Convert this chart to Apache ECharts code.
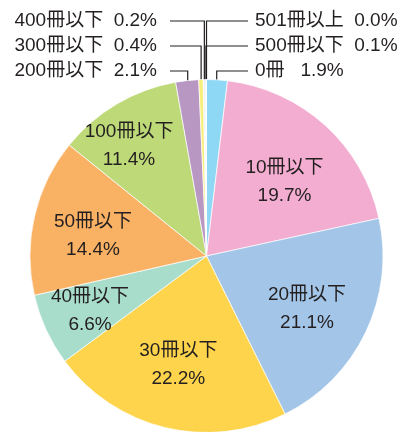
<!DOCTYPE html>
<html>
<head>
<meta charset="utf-8">
<style>
  html, body { margin: 0; padding: 0; background: #fff; }
  #chart { width: 408px; height: 432px; }
</style>
<script src="https://cdn.jsdelivr.net/npm/echarts@6/dist/echarts.min.js"></script>
</head>
<body>
<div id="chart"></div>
<script>
// Books read — share by count band, pie clockwise from 12 o'clock.
var categories = ["0冊", "10冊以下", "20冊以下", "30冊以下", "40冊以下", "50冊以下",
                  "100冊以下", "200冊以下", "300冊以下", "400冊以下", "500冊以下", "501冊以上"];
var shares = [1.9, 19.7, 21.1, 22.2, 6.6, 14.4, 11.4, 2.1, 0.4, 0.2, 0.1, 0.0];

// styling
var colors = ["#8fd8f5", "#f3add0", "#a3c5e7", "#fdd44c", "#a8dccb", "#f9b164",
              "#bdd978", "#b897c3", "#f7ee7c", "#eef2ef", "#d2dde6", "#ffffff"];
var outerLeft = ["200冊以下", "300冊以下", "400冊以下"];   // bottom row first
var outerRight = ["0冊", "500冊以下", "501冊以上"];
// inside label placement: [fraction of radius, degrees off the slice middle]
var innerPlace = {
  "10冊以下": [0.61, 4.2], "20冊以下": [0.643, 2.0], "30冊以下": [0.638, 1.0],
  "40冊以下": [0.73, -0.6], "50冊以下": [0.653, -3.0], "100冊以下": [0.762, -4.6]
};

var CX = 206.5, CY = 256, R = 176.5;
var INK = "#231f20";
var FONT = "'Liberation Sans', 'Noto Sans CJK JP', sans-serif";

var total = shares.reduce(function (s, v) { return s + v; }, 0);
var mids = [];
(function () {
  var cum = 0;
  shares.forEach(function (v) {
    mids.push((cum + v / 2) / total * Math.PI * 2);
    cum += v;
  });
})();

function pct(v) { return v.toFixed(1) + "%"; }
function polar(a, r) { return [CX + r * Math.sin(a), CY - r * Math.cos(a)]; }

var chart = echarts.init(document.getElementById("chart"), null, { renderer: "canvas" });

chart.setOption({
  animation: false,
  backgroundColor: "#fff",
  series: [{
    type: "pie",
    center: [CX, CY],
    radius: [0, R],
    startAngle: 90,
    clockwise: true,
    avoidLabelOverlap: false,
    minShowLabelAngle: 0,
    itemStyle: { borderColor: "#ffffff", borderWidth: 0.7 },
    labelLine: { show: true, length: 10, length2: 10, lineStyle: { color: INK, width: 1.2 } },
    data: categories.map(function (name, i) {
      var outer = outerLeft.indexOf(name) >= 0 || outerRight.indexOf(name) >= 0;
      return {
        name: name,
        value: shares[i],
        itemStyle: { color: colors[i] },
        label: {
          show: true,
          position: outer ? "outside" : "inside",
          alignTo: "none",
          overflow: "none",
          formatter: outer
            ? name + (name === "0冊" ? "   " : "  ") + pct(shares[i])
            : name + "\n" + pct(shares[i]),
          fontFamily: FONT,
          fontSize: 19,
          lineHeight: 28,
          color: INK
        },
        labelLine: { show: outer }
      };
    }),
    labelLayout: function (p) {
      var i = p.dataIndex, name = categories[i], a = mids[i];
      var li = outerLeft.indexOf(name), ri = outerRight.indexOf(name);
      if (li < 0 && ri < 0) {
        var pl = innerPlace[name];
        var pt = polar(a + pl[1] * Math.PI / 180, R * pl[0]);
        return { x: pt[0], y: pt[1], align: "center", verticalAlign: "middle" };
      }
      var row = li >= 0 ? li : ri;
      var y = CY - R - 8.5 - 25 * row;
      var tip = polar(a, R - 5);
      if (li >= 0) {
        return {
          x: CX - 49.5, y: y, align: "right", verticalAlign: "middle",
          labelLinePoints: [[tip[0], tip[1]], [tip[0], y], [CX - 36.5, y]]
        };
      }
      return {
        x: CX + 48.5, y: y, align: "left", verticalAlign: "middle",
        labelLinePoints: [[tip[0], tip[1]], [tip[0], y], [CX + 41.5, y]]
      };
    }
  }]
});
</script>
</body>
</html>
